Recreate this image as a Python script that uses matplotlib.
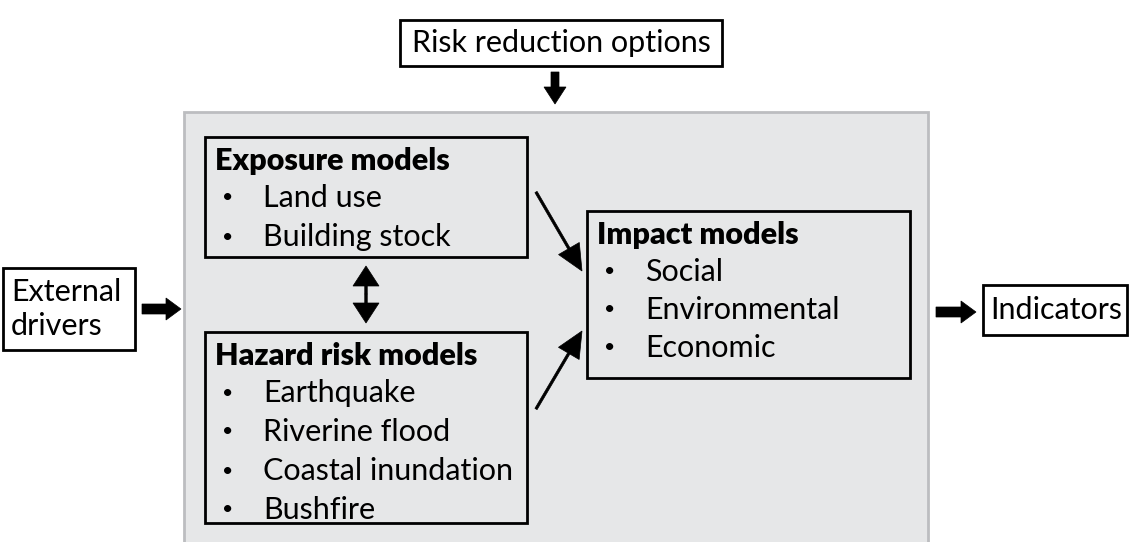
import matplotlib.pyplot as plt
from matplotlib.patches import Rectangle, FancyArrow

# text content of the diagram
top_label = "Risk reduction options"
left_label = "External\ndrivers"
right_label = "Indicators"
exposure_title = "Exposure models"
exposure_items = ["Land use", "Building stock"]
hazard_title = "Hazard risk models"
hazard_items = ["Earthquake", "Riverine flood", "Coastal inundation", "Bushfire"]
impact_title = "Impact models"
impact_items = ["Social", "Environmental", "Economic"]

plt.rcParams['font.family'] = ['Lato', 'DejaVu Sans']
FS = 22

fig = plt.figure(figsize=(11.33, 5.42), dpi=100)
ax = fig.add_axes([0, 0, 1, 1])
ax.set_xlim(0, 1133)
ax.set_ylim(542, 0)
ax.axis('off')


def box(x0, y0, x1, y1, fc='white', ec='black', lw=2.0):
    ax.add_patch(Rectangle((x0, y0), x1 - x0, y1 - y0, fc=fc, ec=ec, lw=lw))


def arrow(x0, y0, x1, y1, w, hw, hl):
    # filled arrow, sizes in pixels (data units)
    ax.add_patch(FancyArrow(x0, y0, x1 - x0, y1 - y0, width=w, head_width=hw,
                            head_length=hl, length_includes_head=True,
                            fc='black', ec='black', lw=0.5))


def model_box(x0, y0, x1, y1, title, items, step):
    box(x0, y0, x1, y1, fc='none')
    ax.text(x0 + 10, y0 + 24, title, fontsize=FS, fontweight='heavy', va='center')
    for i, item in enumerate(items):
        y = y0 + 61 + i * step
        ax.text(x0 + 23, y, "\u2022", fontsize=14, va='center', ha='center')
        ax.text(x0 + 58, y, item, fontsize=FS, va='center')


# grey model frame
box(184, 112, 928, 560, fc='#e6e7e8', ec='#bcbdc0', lw=2.0)

# top input
box(400, 20, 722, 66)
ax.text(561, 43, top_label, fontsize=FS, ha='center', va='center')
arrow(555, 72, 555, 104, 8, 22, 17)

# left input
box(3, 268, 135, 350)
ax.text(11, 309, left_label, fontsize=FS, ha='left', va='center', linespacing=1.25)
arrow(142, 309, 181, 309, 10, 22, 15)

# right output
box(983, 285, 1127, 335)
ax.text(990, 310, right_label, fontsize=FS, ha='left', va='center')
arrow(936, 312, 976, 312, 10, 22, 15)

# inner model boxes
model_box(205, 137, 527, 257, exposure_title, exposure_items, 39)
model_box(205, 332, 527, 523, hazard_title, hazard_items, 39)
model_box(587, 211, 910, 378, impact_title, impact_items, 38)

# links between models
arrow(366, 294, 366, 266, 2.5, 26, 20)
arrow(366, 294, 366, 323, 2.5, 26, 20)
arrow(536, 192, 582, 271, 2.5, 24, 26)
arrow(536, 409, 582, 331, 2.5, 24, 26)

fig.savefig("out.png", dpi=100)
